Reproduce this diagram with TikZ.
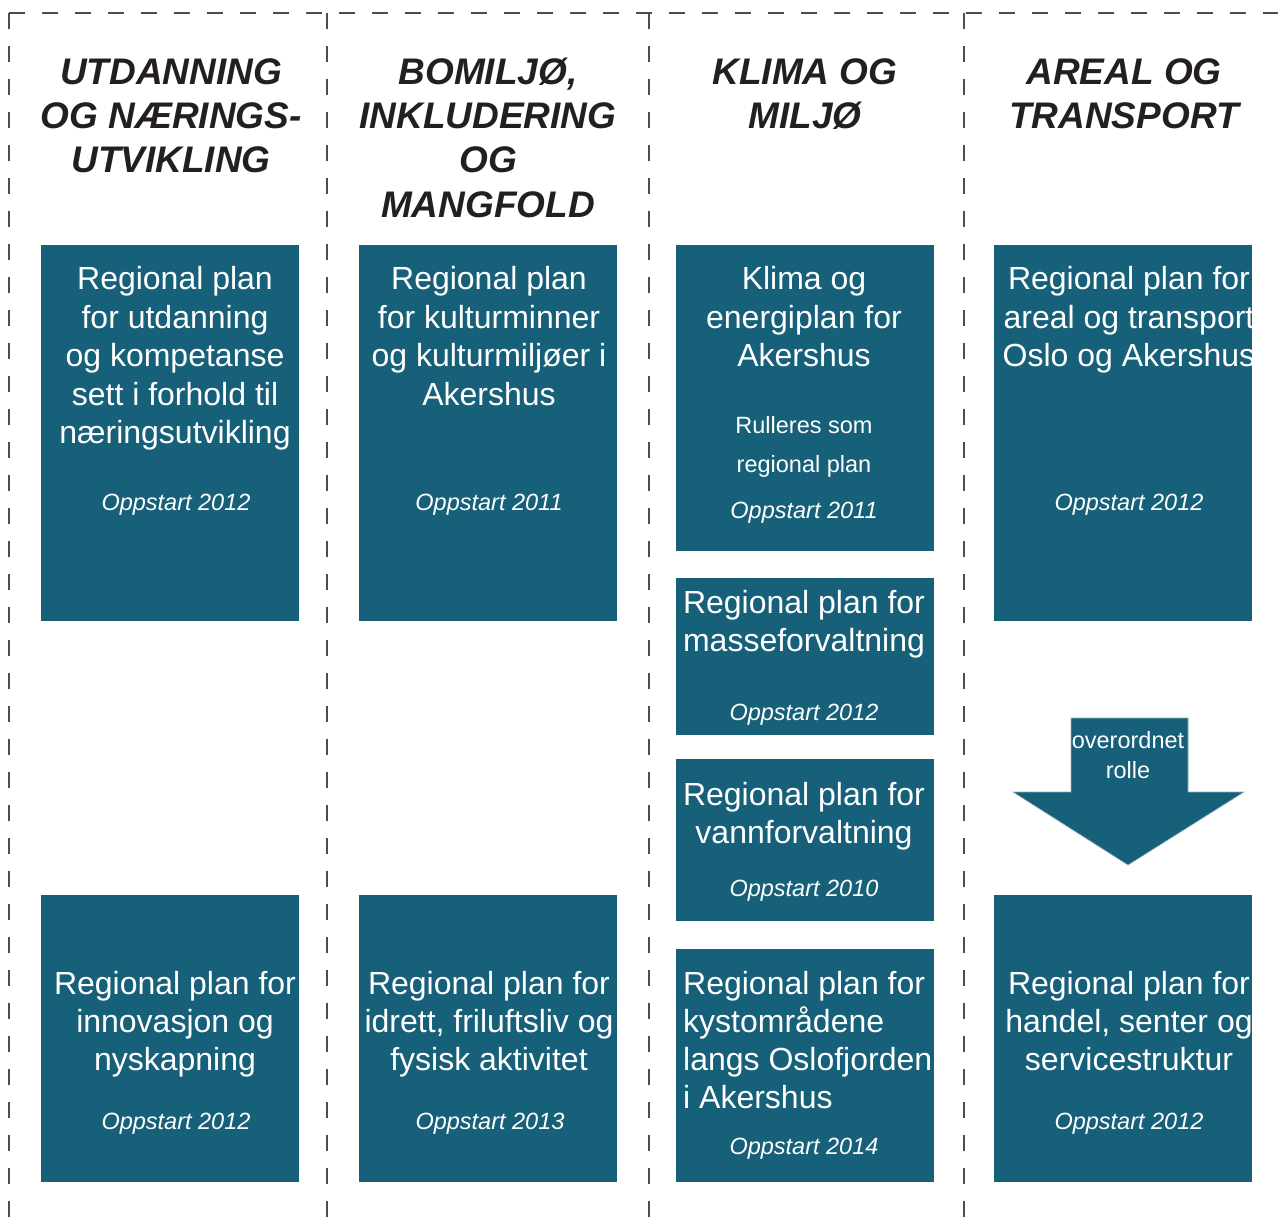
\documentclass[tikz,border=0pt]{standalone}
\usepackage{fontspec}
\setmainfont{Liberation Sans}
\definecolor{planteal}{HTML}{176079}
\definecolor{titlecol}{HTML}{231F20}
\definecolor{dashcol}{HTML}{4D4D4D}
\definecolor{arrowedge}{HTML}{8FB0BC}
\begin{document}
\begin{tikzpicture}[x=1pt,y=-1pt,
  sep/.style={draw=dashcol, line width=1.5pt, dash pattern=on 16pt off 17pt},
  plan/.style={fill=planteal, draw=none, rectangle, inner sep=0pt, outer sep=0pt, anchor=north west},
  big/.style={text=white, font=\fontsize{32}{38}\selectfont, anchor=base, inner sep=0pt},
  bigl/.style={big, anchor=base west},
  opp/.style={text=white, font=\fontsize{23.5}{28}\selectfont\itshape, anchor=base, inner sep=0pt},
  small/.style={text=white, font=\fontsize{23.5}{28}\selectfont, anchor=base, inner sep=0pt},
  ttl/.style={text=titlecol, font=\fontsize{37}{44}\selectfont\bfseries\itshape, anchor=base, inner sep=0pt}
]
\useasboundingbox (0,0) rectangle (1278,1224);

% separators
\coordinate (tl) at (9,13);
\coordinate (tr) at (1278,13);
\coordinate (bl) at (9,1224);
\coordinate (s1t) at (327,13); \coordinate (s1b) at (327,1224);
\coordinate (s2t) at (649,13); \coordinate (s2b) at (649,1224);
\coordinate (s3t) at (964,13); \coordinate (s3b) at (964,1224);
\draw[sep] (tl) -- (tr);
\draw[sep] (tl) -- (bl);
\draw[sep] (s1t) -- (s1b);
\draw[sep] (s2t) -- (s2b);
\draw[sep] (s3t) -- (s3b);

% titles
\node[ttl] (t1a) at (171,84) {UTDANNING};
\node[ttl] (t1b) at (171,128) {OG NÆRINGS-};
\node[ttl] (t1c) at (171,172) {UTVIKLING};
\node[ttl] (t2a) at (488,84) {BOMILJØ,};
\node[ttl] (t2b) at (488,128) {INKLUDERING};
\node[ttl] (t2c) at (488,172) {OG};
\node[ttl] (t2d) at (488,217) {MANGFOLD};
\node[ttl] (t3a) at (805,84) {KLIMA OG};
\node[ttl] (t3b) at (805,128) {MILJØ};
\node[ttl] (t4a) at (1124,84) {AREAL OG};
\node[ttl] (t4b) at (1124,128) {TRANSPORT};

% boxes
\node[plan, minimum width=258, minimum height=376] (b11) at (41,245) {};
\node[plan, minimum width=258, minimum height=287] (b12) at (41,895) {};
\node[plan, minimum width=258, minimum height=376] (b21) at (359,245) {};
\node[plan, minimum width=258, minimum height=287] (b22) at (359,895) {};
\node[plan, minimum width=258, minimum height=306] (b31) at (676,245) {};
\node[plan, minimum width=258, minimum height=157] (b32) at (676,578) {};
\node[plan, minimum width=258, minimum height=162] (b33) at (676,759) {};
\node[plan, minimum width=258, minimum height=233] (b34) at (676,949) {};
\node[plan, minimum width=258, minimum height=376] (b41) at (994,245) {};
\node[plan, minimum width=258, minimum height=287] (b42) at (994,895) {};

% column 1
\node[big] (l111) at (175,289) {Regional plan};
\node[big] (l112) at (175,328) {for utdanning};
\node[big] (l113) at (175,366) {og kompetanse};
\node[big] (l114) at (175,405) {sett i forhold til};
\node[big] (l115) at (175,443) {næringsutvikling};
\node[opp] (o11) at (176,510) {Oppstart 2012};
\node[big] (l121) at (175,994) {Regional plan for};
\node[big] (l122) at (175,1032) {innovasjon og};
\node[big] (l123) at (175,1070) {nyskapning};
\node[opp] (o12) at (176,1129) {Oppstart 2012};

% column 2
\node[big] (l211) at (489,289) {Regional plan};
\node[big] (l212) at (489,328) {for kulturminner};
\node[big] (l213) at (489,366) {og kulturmiljøer i};
\node[big] (l214) at (489,405) {Akershus};
\node[opp] (o21) at (489,510) {Oppstart 2011};
\node[big] (l221) at (489,994) {Regional plan for};
\node[big] (l222) at (489,1032) {idrett, friluftsliv og};
\node[big] (l223) at (489,1070) {fysisk aktivitet};
\node[opp] (o22) at (490,1129) {Oppstart 2013};

% column 3
\node[big] (l311) at (804,289) {Klima og};
\node[big] (l312) at (804,328) {energiplan for};
\node[big] (l313) at (804,366) {Akershus};
\node[small] (l314) at (804,433) {Rulleres som};
\node[small] (l315) at (804,472) {regional plan};
\node[opp] (o31) at (804,518) {Oppstart 2011};
\node[big] (l321) at (804,613) {Regional plan for};
\node[big] (l322) at (804,651) {masseforvaltning};
\node[opp] (o32) at (804,720) {Oppstart 2012};
\node[big] (l331) at (804,805) {Regional plan for};
\node[big] (l332) at (804,843) {vannforvaltning};
\node[opp] (o33) at (804,896) {Oppstart 2010};
\node[bigl] (l341) at (683,994) {Regional plan for};
\node[bigl] (l342) at (683,1032) {kystområdene};
\node[bigl] (l343) at (683,1070) {langs Oslofjorden};
\node[bigl] (l344) at (683,1108) {i Akershus};
\node[opp] (o34) at (804,1154) {Oppstart 2014};

% column 4
\begin{scope}
\clip (994,245) rectangle (1252,621);
\node[big] (l411) at (1129,289) {Regional plan for};
\node[big] (l412) at (1129,328) {areal og transport};
\node[big] (l413) at (1129,366) {Oslo og Akershus};
\end{scope}
\node[opp] (o41) at (1129,510) {Oppstart 2012};
\begin{scope}
\clip (994,895) rectangle (1252,1182);
\node[big] (l421) at (1129,994) {Regional plan for};
\node[big] (l422) at (1129,1032) {handel, senter og};
\node[big] (l423) at (1129,1070) {servicestruktur};
\end{scope}
\node[opp] (o42) at (1129,1129) {Oppstart 2012};

% arrow
\fill[planteal, draw=arrowedge, line width=0.6pt]
  (1071,718) -- (1188,718) -- (1188,792) -- (1244,792) -- (1128,865)
  -- (1013,792) -- (1071,792) -- cycle;
\node[small] (ar1) at (1128,748) {overordnet};
\node[small] (ar2) at (1128,778) {rolle};
\end{tikzpicture}
\end{document}
